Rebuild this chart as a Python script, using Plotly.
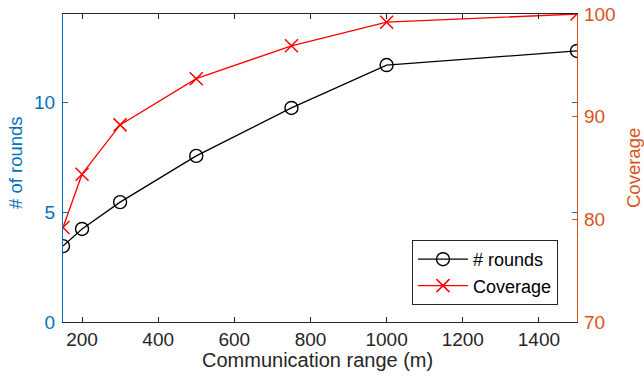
import plotly.graph_objects as go

comm_range = [150, 200, 300, 500, 750, 1000, 1500]
rounds = [3.45, 4.23, 5.45, 7.55, 9.73, 11.68, 12.32]
coverage = [79.2, 84.4, 89.2, 93.7, 96.9, 99.2, 100.0]

x_ticks = [200, 400, 600, 800, 1000, 1200, 1400]
y1_ticks = [0, 5, 10]
y2_ticks = [70, 80, 90, 100]

BLUE = "#0072BD"
ORANGE = "#D95319"
FONT = "Liberation Sans, Arial, Helvetica, sans-serif"

L, R, T, B = 63, 67, 14, 58
W, H = 644, 380
PW, PH = W - L - R, H - T - B

fig = go.Figure()
fig.add_trace(go.Scatter(
    x=comm_range, y=rounds, name="# rounds", mode="lines+markers",
    line=dict(color="black", width=1.3),
    marker=dict(symbol="circle-open", size=13, color="black", line=dict(width=1.4)),
    yaxis="y"))
fig.add_trace(go.Scatter(
    x=comm_range, y=coverage, name="Coverage", mode="lines+markers",
    line=dict(color="#FF0000", width=1.3),
    marker=dict(symbol="x-thin-open", size=13, color="#FF0000", line=dict(width=1.5, color="#FF0000")),
    yaxis="y2"))

def px(xp):
    return (xp - L) / PW

def py(yp):
    return (H - B - yp) / PH

fig.update_layout(
    width=W, height=H,
    margin=dict(l=L, r=R, t=T, b=B, autoexpand=False),
    paper_bgcolor="white", plot_bgcolor="white",
    font=dict(family=FONT, size=18, color="#262626"),
    showlegend=True,
    legend=dict(x=px(558), xanchor="right", y=py(305), yanchor="bottom",
                bgcolor="white", bordercolor="#262626", borderwidth=1,
                font=dict(size=18, color="black"), tracegroupgap=0,
                itemwidth=50),
    xaxis=dict(range=[150, 1500], tickvals=x_ticks, showgrid=False, zeroline=False,
               showline=True, linecolor="#262626", linewidth=1, mirror="ticks",
               ticks="inside", ticklen=5, tickcolor="#262626", automargin=False,
               tickfont=dict(size=19, color="#262626")),
    yaxis=dict(range=[0, 14], tickvals=y1_ticks, showgrid=False, zeroline=False,
               showline=True, linecolor=BLUE, linewidth=1.3, mirror="ticks",
               ticks="inside", ticklen=5, tickcolor=BLUE, automargin=False,
               ticklabelstandoff=3,
               tickfont=dict(size=19, color=BLUE)),
    yaxis2=dict(range=[70, 100], tickvals=y2_ticks, overlaying="y", side="right",
                showgrid=False, zeroline=False, showline=True, linecolor=ORANGE, linewidth=1.3,
                ticks="inside", ticklen=5, tickcolor=ORANGE, automargin=False,
                ticklabelstandoff=2,
                tickfont=dict(size=19, color=ORANGE)),
    annotations=[
        dict(text="Communication range (m)", xref="paper", yref="paper",
             x=px(317), y=py(360), xanchor="center", yanchor="middle",
             showarrow=False, font=dict(size=20, color="#262626")),
        dict(text="# of rounds", xref="paper", yref="paper",
             x=px(15), y=py(163), xanchor="center", yanchor="middle", textangle=-90,
             showarrow=False, font=dict(size=18.5, color=BLUE)),
        dict(text="Coverage", xref="paper", yref="paper",
             x=px(633), y=py(168), xanchor="center", yanchor="middle", textangle=-90,
             showarrow=False, font=dict(size=18.5, color=ORANGE)),
    ],
)

fig.write_html("out.html", config={"displayModeBar": False},
               post_script="document.body.style.margin='0';")
